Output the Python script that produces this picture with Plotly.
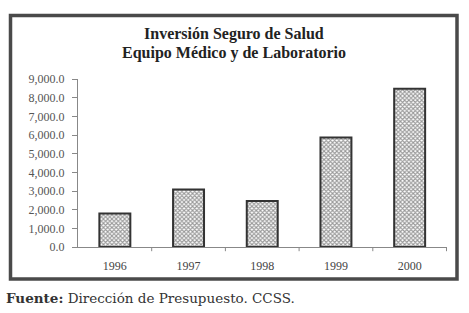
import plotly.graph_objects as go

years = ["1996", "1997", "1998", "1999", "2000"]
values = [1800.0, 3080.0, 2460.0, 5860.0, 8480.0]
y_ticks = [0, 1000, 2000, 3000, 4000, 5000, 6000, 7000, 8000, 9000]
y_tick_labels = ["0.0", "1,000.0", "2,000.0", "3,000.0", "4,000.0", "5,000.0",
                 "6,000.0", "7,000.0", "8,000.0", "9,000.0"]
title_lines = ["Inversión Seguro de Salud", "Equipo Médico y de Laboratorio"]
source_bold = "Fuente:"
source_text = "Dirección de Presupuesto. CCSS."

W, H = 469, 313
L, R, T, B = 78, 22, 79, 66
pw, ph = W - L - R, H - T - B

def px(x):
    return (x - L) / pw

def py(y):
    return (H - B - y) / ph

fig = go.Figure(go.Bar(
    x=years, y=values,
    marker=dict(
        color="white",
        line=dict(color="#333333", width=2),
        pattern=dict(shape="x", fgcolor="#333333", bgcolor="white", size=3, solidity=0.6),
    ),
    width=0.42,
))

fig.update_layout(
    width=W, height=H,
    margin=dict(l=L, r=R, t=T, b=B),
    paper_bgcolor="white", plot_bgcolor="white",
    showlegend=False,
    font=dict(family="Liberation Serif", color="#444444"),
    xaxis=dict(
        type="category", showgrid=False, showline=True, linecolor="#888888", linewidth=1,
        ticks="", tickfont=dict(size=12, color="#444444", family="Liberation Serif"),
        ticklabelstandoff=8,
    ),
    yaxis=dict(
        range=[0, 9000], tickvals=y_ticks, ticktext=y_tick_labels,
        showgrid=False, zeroline=False, showline=True, linecolor="#888888", linewidth=1,
        ticks="outside", ticklen=5, tickcolor="#888888",
        tickfont=dict(size=12, color="#555555", family="Liberation Serif"),
        ticklabelstandoff=5,
    ),
    shapes=[
        dict(type="rect", xref="paper", yref="paper",
             x0=px(10.5), x1=px(457), y0=py(279), y1=py(15.5),
             line=dict(color="#4a4a4a", width=3.5)),
    ] + [
        dict(type="line", xref="x", yref="paper", x0=i + 0.5, x1=i + 0.5,
             y0=0, y1=-0.025, line=dict(color="#888888", width=1))
        for i in range(len(years))
    ],
    annotations=[
        dict(text="<b>" + title_lines[0] + "</b>", xref="paper", yref="paper", x=px(234), y=py(34),
             showarrow=False, xanchor="center", yanchor="middle",
             font=dict(size=16, color="#222222", family="Liberation Serif")),
        dict(text="<b>" + title_lines[1] + "</b>", xref="paper", yref="paper", x=px(234), y=py(53),
             showarrow=False, xanchor="center", yanchor="middle",
             font=dict(size=16, color="#222222", family="Liberation Serif")),
        dict(text="<b>" + source_bold + "</b> " + source_text, xref="paper", yref="paper",
             x=px(4), y=py(298), showarrow=False, xanchor="left", yanchor="middle",
             font=dict(size=13.5, color="#333333", family="DejaVu Serif")),
    ],
)

fig.write_html("out.html", config={"displayModeBar": False},
               post_script="document.body.style.margin='0';")
